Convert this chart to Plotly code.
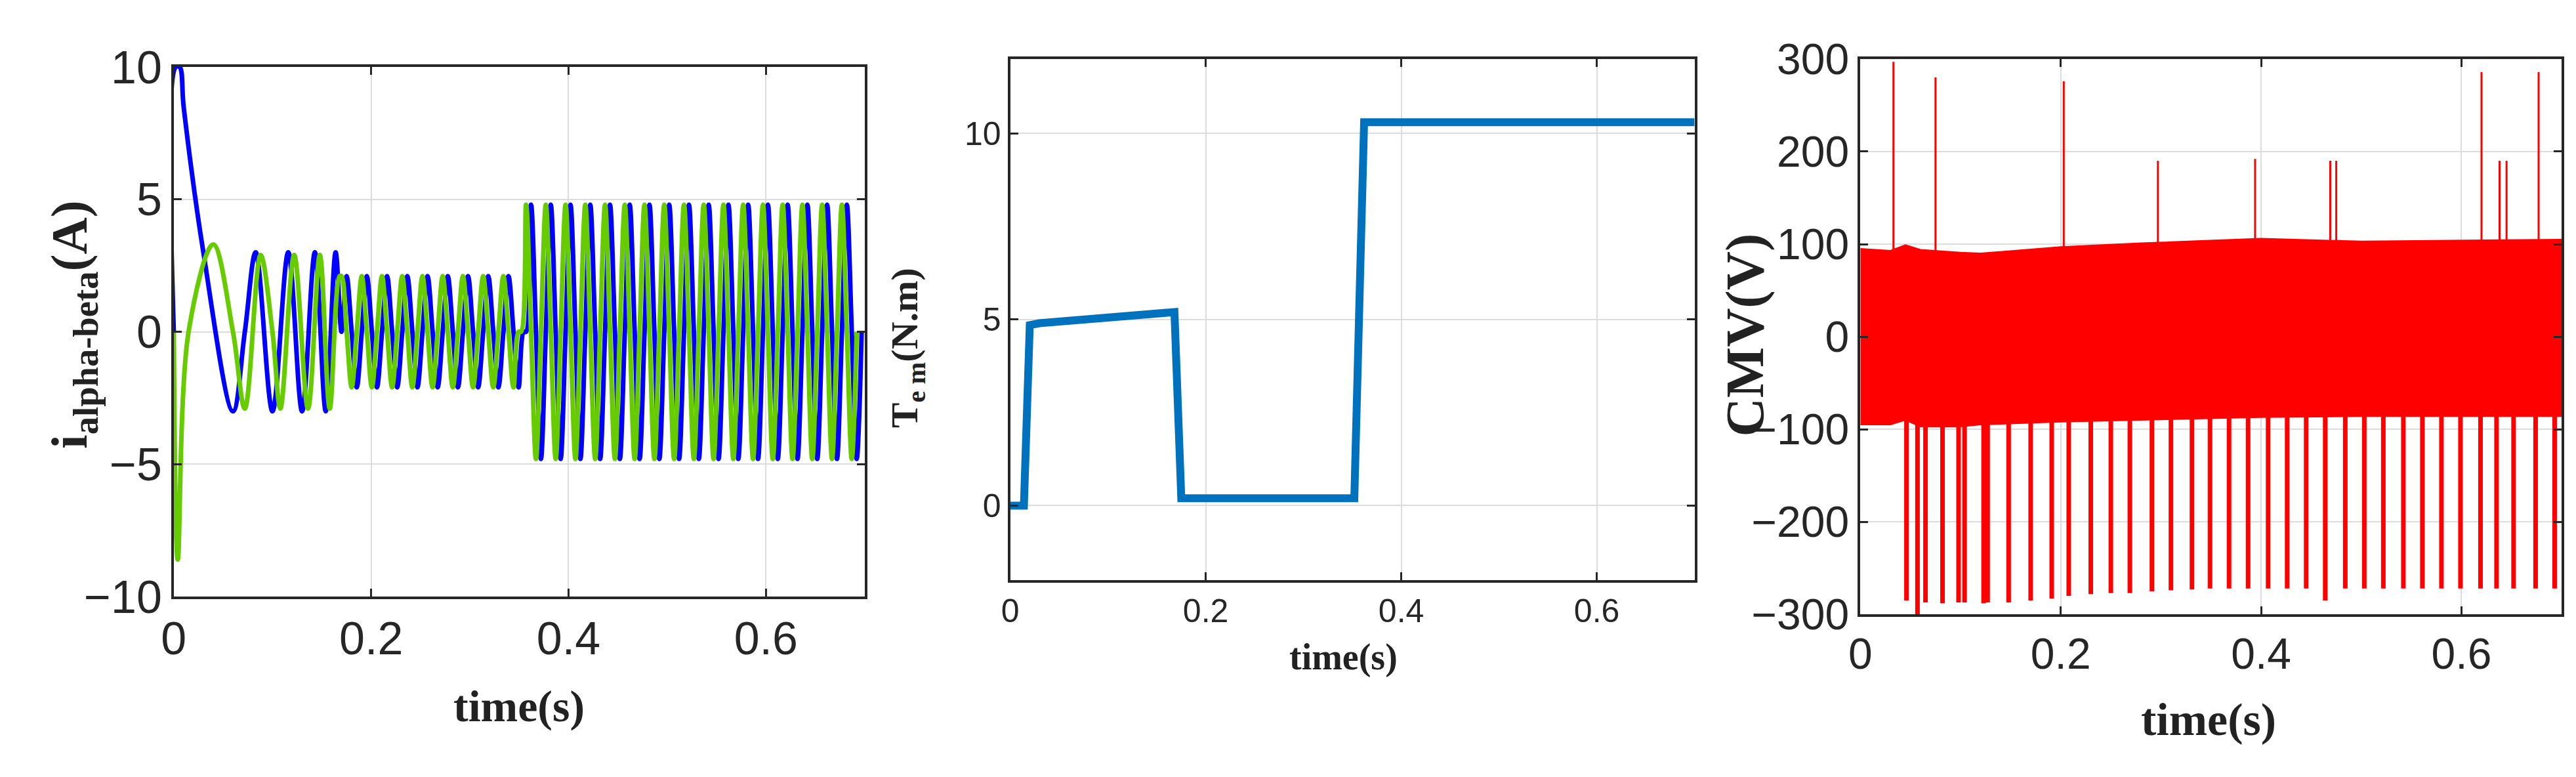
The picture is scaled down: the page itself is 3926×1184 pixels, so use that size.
import plotly.graph_objects as go
import numpy as np

# ---------------- data ----------------
# currents: transient extremes (time, value)
blue_t0 = [0.0, 0.002, 0.006, 0.010, 0.030, 0.060, 0.072, 0.083, 0.100, 0.116, 0.130, 0.143, 0.154, 0.164, 0.170]
blue_v0 = [0.0, 10.0, 10.0, 8.5, 3.0, -3.0, 0.0, 3.0, -3.0, 3.0, -3.0, 3.0, -3.0, 3.0, 0.0]
green_t0 = [0.0, 0.004, 0.015, 0.040, 0.060, 0.072, 0.088, 0.100, 0.108, 0.122, 0.136, 0.148, 0.158, 0.168]
green_v0 = [0.0, -8.6, 0.0, 3.3, 0.0, -2.9, 2.9, 0.0, -2.9, 2.9, -2.9, 2.9, -2.9, 2.1]
# periodic parts: (start, end, period, amplitude)
seg_start = [0.170, 0.357]
seg_end = [0.357, 0.701]
seg_period = [0.0205, 0.0200]
seg_amp = [2.1, 4.8]

# torque: corner points
torque_t = [0.0, 0.014, 0.020, 0.030, 0.168, 0.175, 0.352, 0.362, 0.700]
torque_v = [0.0, 0.0, 4.85, 4.9, 5.2, 0.2, 0.2, 10.3, 10.3]

# CMV envelope and spikes
cmv_t = [0.0, 0.030, 0.045, 0.060, 0.100, 0.120, 0.200, 0.280, 0.400, 0.500, 0.700]
cmv_hi = [95, 93, 99, 94, 91, 90, 97, 101, 106, 103, 105]
cmv_lo = [-95, -95, -90, -97, -97, -95, -92, -90, -87, -86, -86]
pos_spike_t = [0.033, 0.075, 0.203, 0.297, 0.394, 0.469, 0.475, 0.620, 0.638, 0.645, 0.677]
pos_spike_v = [297, 280, 276, 190, 192, 190, 190, 286, 190, 190, 286]
neg_spike_t = [0.046, 0.057, 0.065, 0.082, 0.098, 0.104, 0.123, 0.127, 0.148, 0.170, 0.191,
               0.208, 0.230, 0.250, 0.269, 0.291, 0.310, 0.331, 0.349, 0.368, 0.387, 0.407,
               0.426, 0.445, 0.464, 0.484, 0.503, 0.522, 0.542, 0.561, 0.580, 0.599, 0.619,
               0.635, 0.652, 0.674, 0.693]
neg_spike_v = [-285, -300, -287, -288, -287, -287, -288, -287, -287, -285, -283,
               -280, -278, -277, -277, -275, -274, -273, -272, -272, -272, -272,
               -272, -272, -285, -272, -272, -272, -272, -272, -272, -272, -272,
               -272, -272, -272, -272]

# ---------------- build the current waveforms ----------------
def periodic(phase_shift):
    tt, vv = [], []
    for s, e, p, a in zip(seg_start, seg_end, seg_period, seg_amp):
        k = np.arange(s, e, p / 4)
        for i, t in enumerate(k):
            tt.append(t + phase_shift * p)
            vv.append([0, a, 0, -a][i % 4])
    return tt, vv

bt, bv = periodic(0.0)
gt, gv = periodic(-0.25)
blue_t = blue_t0 + [t for t in bt if t > blue_t0[-1]]
blue_v = blue_v0 + [v for t, v in zip(bt, bv) if t > blue_t0[-1]]
green_t = green_t0 + [t for t in gt if t > green_t0[-1]]
green_v = green_v0 + [v for t, v in zip(gt, gv) if t > green_t0[-1]]

W, H = 3926, 1184
def dx(a, b):
    return [a / W, b / W]
def dy(top, bot):
    return [1 - bot / H, 1 - top / H]

fig = go.Figure()

# panel 1
fig.add_trace(go.Scatter(x=blue_t, y=blue_v, mode='lines', line=dict(color='#0000ff', width=7, shape='spline'),
                         xaxis='x', yaxis='y'))
fig.add_trace(go.Scatter(x=green_t, y=green_v, mode='lines', line=dict(color='#66cc00', width=7, shape='spline'),
                         xaxis='x', yaxis='y'))

# panel 2
fig.add_trace(go.Scatter(x=torque_t, y=torque_v, mode='lines', line=dict(color='#0072bd', width=12),
                         xaxis='x2', yaxis='y2'))

# panel 3
fig.add_trace(go.Scatter(x=cmv_t, y=cmv_lo, mode='lines', line=dict(color='#ff0000', width=2),
                         xaxis='x3', yaxis='y3'))
fig.add_trace(go.Scatter(x=cmv_t, y=cmv_hi, mode='lines', line=dict(color='#ff0000', width=2),
                         fill='tonexty', fillcolor='#ff0000', xaxis='x3', yaxis='y3'))
px, py = [], []
for t, v in zip(pos_spike_t, pos_spike_v):
    px += [t, t, None]
    py += [90, v, None]
fig.add_trace(go.Scatter(x=px, y=py, mode='lines', line=dict(color='#ff0000', width=3),
                         xaxis='x3', yaxis='y3'))
nx, ny = [], []
for t, v in zip(neg_spike_t, neg_spike_v):
    nx += [t, t, None]
    ny += [-80, v, None]
fig.add_trace(go.Scatter(x=nx, y=ny, mode='lines', line=dict(color='#ff0000', width=7),
                         xaxis='x3', yaxis='y3'))

def ax(domain, rng, dtick, size, anchor, **kw):
    return dict(domain=domain, range=rng, dtick=dtick, anchor=anchor,
                showgrid=True, gridcolor='#dcdcdc', gridwidth=2, zeroline=False,
                showline=True, linecolor='#262626', linewidth=4, mirror='ticks',
                ticks='inside', ticklen=12, tickwidth=3, tickcolor='#262626',
                tickfont=dict(family='Liberation Sans', size=size, color='#262626'), **kw)

fig.update_layout(
    width=W, height=H, showlegend=False, plot_bgcolor='white', paper_bgcolor='white',
    margin=dict(l=0, r=0, t=0, b=0),
    xaxis=ax(dx(239, 1297), [0, 0.7], 0.2, 70, 'y', tickformat='~g'),
    yaxis=ax(dy(60, 924), [-10, 10], 5, 70, 'x'),
    xaxis2=ax(dx(1520, 2568), [0, 0.7], 0.2, 50, 'y2', tickformat='~g'),
    yaxis2=ax(dy(47, 897), [-2, 12], 5, 50, 'x2'),
    xaxis3=ax(dx(2822, 3896), [0, 0.7], 0.2, 66, 'y3', tickformat='~g'),
    yaxis3=ax(dy(47, 953), [-300, 300], 100, 66, 'x3'),
)

serif = 'Liberation Serif'
ann = [
    dict(x=768 / W, y=1 - 1103 / H, text='<b>time(s)</b>', size=68, angle=0),
    dict(x=2030 / W, y=1 - 1023 / H, text='<b>time(s)</b>', size=56, angle=0),
    dict(x=3355 / W, y=1 - 1125 / H, text='<b>time(s)</b>', size=70, angle=0),
    dict(x=85 / W, y=1 - 480 / H, text='<b>i<sub>alpha-beta</sub>(A)</b>', size=78, angle=-90),
    dict(x=1362 / W, y=1 - 518 / H, text='<b>T<sub>e m</sub>(N.m)</b>', size=58, angle=-90),
    dict(x=2645 / W, y=1 - 497 / H, text='<b>CMV(V)</b>', size=82, angle=-90),
]
for a in ann:
    fig.add_annotation(x=a['x'], y=a['y'], xref='paper', yref='paper', text=a['text'],
                       showarrow=False, textangle=a['angle'], xanchor='center', yanchor='middle',
                       font=dict(family=serif, size=a['size'], color='#222222'))

fig.write_html("out.html")
